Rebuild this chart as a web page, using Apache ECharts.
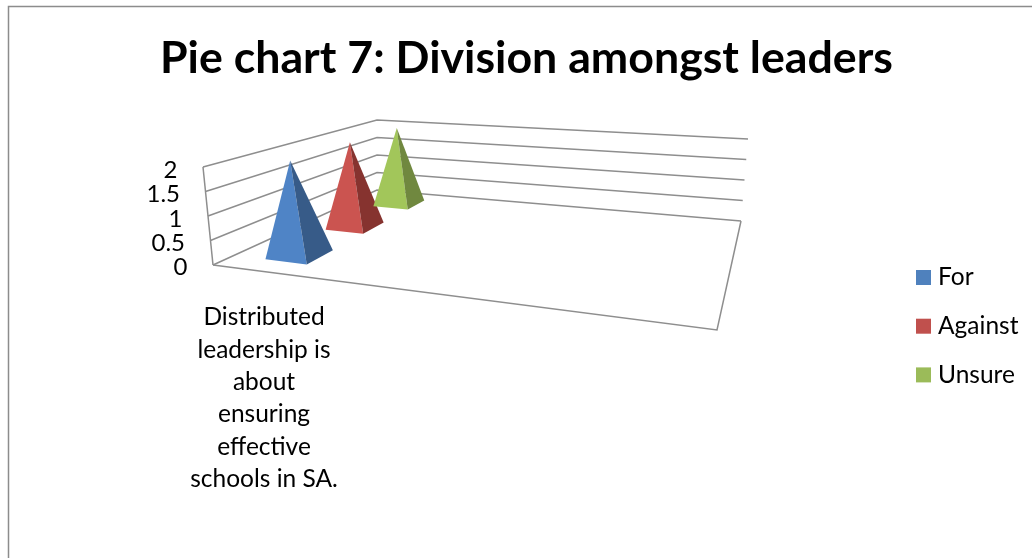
<!DOCTYPE html>
<html><head><meta charset="utf-8">
<style>html,body{margin:0;padding:0;background:#fff}#c{width:1032px;height:558px}</style>
<script src="https://cdn.jsdelivr.net/npm/echarts@6/dist/echarts.min.js"></script>
</head><body><div id="c"></div>
<script>
const titleText = 'Pie chart 7: Division amongst leaders';
const categories = ['Distributed\nleadership is\nabout\nensuring\neffective\nschools in SA.', '', '', ''];
const seriesNames = ['For', 'Against', 'Unsure'];
const forValues = [2];
const againstValues = [2];
const unsureValues = [2];
const yTicks = [0, 0.5, 1, 1.5, 2];
const legendColors = ['#4F81BD', '#C0504D', '#9BBB59'];
const faceColors = [['#4F84C6', '#375B88'], ['#CB5450', '#86332F'], ['#A2C65A', '#70883F']];

const FONT = 'Lato';
const GRID = {left: 201, top: 169, width: 504, height: 97};
const YMAX = 2;
// Perspective box corners
const floorQ = [[213,265],[717,330],[741,221],[377,190]];
const topQ = [[203,167],[726,215],[748,139],[377,120]];
function homography(q){
  const [[x0,y0],[x1,y1],[x2,y2],[x3,y3]] = q;
  const dx1=x1-x2, dx2=x3-x2, sx=x0-x1+x2-x3;
  const dy1=y1-y2, dy2=y3-y2, sy=y0-y1+y2-y3;
  const d=dx1*dy2-dx2*dy1;
  const g=(sx*dy2-dx2*sy)/d, h=(dx1*sy-sx*dy1)/d;
  const a=x1-x0+g*x1, b=x3-x0+h*x3, c=x0;
  const e=y1-y0+g*y1, f=y3-y0+h*y3, i=y0;
  return (u,v)=>{const w=g*u+h*v+1;return [(a*u+b*v+c)/w,(e*u+f*v+i)/w];};
}
const hFloor=homography(floorQ), hTop=homography(topQ);
function project(u,v,t){
  const p=hFloor(u,v), q=hTop(u,v);
  return [p[0]+(q[0]-p[0])*t, p[1]+(q[1]-p[1])*t];
}
const BAND_U = 0.05, BAND_V = 0.072, U_SHIFT = 0.004;

function pyramidSeries(name, idx, values){
  return {
    name, type:'custom', coordinateSystem:'cartesian2d',
    itemStyle:{color:legendColors[idx]},
    data: values.map((v,i)=>[i,v]),
    renderItem(params, api){
      const c = api.coord([api.value(0), api.value(1)]);
      const u = (c[0]-GRID.left)/GRID.width + U_SHIFT;
      const t = (GRID.top+GRID.height-c[1])/GRID.height;
      const vc = (idx+0.5)/3;
      const fl=project(u-BAND_U,vc-BAND_V,0), fr=project(u+BAND_U,vc-BAND_V,0), br=project(u+BAND_U,vc+BAND_V,0);
      const apex=project(u,vc,t);
      return {type:'group',children:[
        {type:'polygon',shape:{points:[fl,fr,apex]},style:{fill:faceColors[idx][0]}},
        {type:'polygon',shape:{points:[fr,br,apex]},style:{fill:faceColors[idx][1]}}
      ]};
    }
  };
}
const LINE = {fill:'none',stroke:'#8E8E8E',lineWidth:1.5};
const wallSeries = {
  type:'custom', coordinateSystem:'cartesian2d', silent:true, legendHoverLink:false, clip:false,
  data: yTicks.map(t=>[0,t]),
  renderItem(params, api){
    const val = api.value(1);
    const c = api.coord([0, val]);
    const t = (GRID.top+GRID.height-c[1])/GRID.height;
    const pts=[project(0,0,t),project(0,1,t),project(1,1,t)];
    const kids=[
      {type:'polyline',shape:{points:pts},style:LINE},
      {type:'text',style:{text:String(val),x:pts[0][0]-25.5,y:c[1]+1.5,align:'right',verticalAlign:'middle',
        font:'24px '+FONT,fill:'#000'}}
    ];
    if(params.dataIndex===0) kids.push(
      {type:'polyline',shape:{points:[project(0,0,0),project(1,0,0),project(1,1,0)]},style:LINE},
      {type:'polyline',shape:{points:[project(0,0,0),project(0,0,1)]},style:LINE}
    );
    return {type:'group',children:kids};
  }
};

const chart=echarts.init(document.getElementById('c'),null,{renderer:'canvas'});
chart.setOption({
  animation:false,
  backgroundColor:'#fff',
  title:{text:titleText,left:160,top:36,textStyle:{fontFamily:FONT,fontWeight:'bold',fontSize:44.7,color:'#000'},padding:0},
  legend:{orient:'vertical',left:916,top:265,padding:0,itemWidth:15,itemHeight:15,itemGap:23.7,icon:'rect',data:seriesNames,
    selectedMode:false,textStyle:{fontFamily:FONT,fontSize:24.5,color:'#000',padding:[0,0,0,2]}},
  grid:GRID,
  xAxis:{type:'category',data:categories,axisLine:{show:false},axisTick:{show:false},splitLine:{show:false},
    axisLabel:{interval:0,margin:35,fontFamily:FONT,fontSize:24.5,lineHeight:32.4,color:'#000'}},
  yAxis:{type:'value',min:0,max:YMAX,interval:0.5,axisLine:{show:false},axisTick:{show:false},splitLine:{show:false},
    axisLabel:{show:false}},
  graphic:[{type:'polyline',silent:true,shape:{points:[[8.5,558],[8.5,6.5],[1032,6.5]]},style:{fill:'none',stroke:'#8C8C8C',lineWidth:1.5}}],
  series:[wallSeries,
    pyramidSeries(seriesNames[0],0,forValues),
    pyramidSeries(seriesNames[1],1,againstValues),
    pyramidSeries(seriesNames[2],2,unsureValues)]
});
</script></body></html>
